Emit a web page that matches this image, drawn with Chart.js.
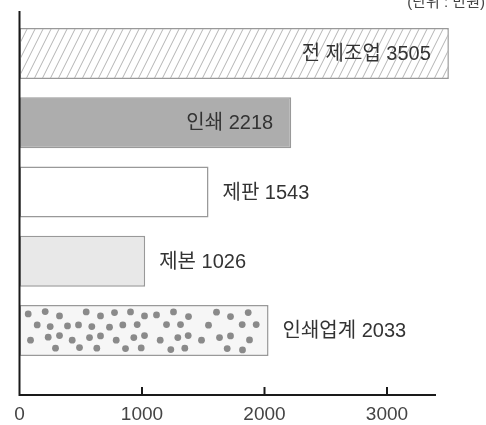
<!DOCTYPE html>
<html>
<head>
<meta charset="utf-8">
<script src="https://cdn.jsdelivr.net/npm/chart.js@4.4.1/dist/chart.umd.min.js"></script>
<style>
  html, body { margin: 0; padding: 0; background: #fff; }
  #wrap { width: 486px; height: 425px; position: relative; }
</style>
</head>
<body>
<div id="wrap"><canvas id="chart"></canvas></div>
<script>
const categories = ['전 제조업', '인쇄', '제판', '제본', '인쇄업계'];
const wages = [3505, 2218, 1543, 1026, 2033];
const tickValues = [0, 1000, 2000, 3000];
const axisEnd = 3400;
const unitLabel = '(단위 : 만원)';

const FONT = '"Liberation Sans", "Noto Sans CJK KR", sans-serif';
Chart.defaults.font.family = FONT;

// dot positions for the speckled bar, relative to the bar's top-left corner
const DOTS = [
  [8.7,9],[25.7,6.7],[40,11],[66.7,7],[81,11],[95,7.7],[111,7],[125,11],[137,10],[154,7],[169,11.7],[197,7.3],[211,11.7],[228.7,7.7],
  [17.7,20],[30.7,21.7],[48,21],[59,20],[72.3,21.7],[90,22.3],[103.3,20],[117.7,19.7],[147,19.7],[161,19.7],[189,20.3],[222.7,19.7],[236.7,19.7],
  [11,35.3],[28.7,32.3],[40,30.7],[52.7,35.3],[70,32.7],[81,31],[96.7,35.3],[114.3,32.7],[125,30.7],[140.7,35.3],[158.3,32.7],[168.7,30.7],[182,35.3],[200,32.7],[211,31],[230,35],
  [36,43.3],[60,42.7],[77.3,43.3],[106,43.7],[121.7,43],[151.3,44.7],[165.3,43.3],[207.7,43.7],[223,45]
];

const decorPlugin = {
  id: 'decor',
  afterDatasetsDraw(chart) {
    const ctx = chart.ctx;
    const bars = chart.getDatasetMeta(0).data;

    // hatched bar
    let b = bars[0].getProps(['x', 'y', 'base', 'height'], true);
    let top = b.y - b.height / 2, bottom = b.y + b.height / 2;
    ctx.save();
    ctx.beginPath();
    ctx.rect(b.base + 1, top + 1, b.x - b.base - 2, b.height - 2);
    ctx.clip();
    ctx.strokeStyle = '#b4b4b4';
    ctx.lineWidth = 1;
    const lean = b.height * 0.5;
    for (let x = b.base - lean; x < b.x + 10; x += 8) {
      ctx.beginPath();
      ctx.moveTo(x, bottom);
      ctx.lineTo(x + lean, top);
      ctx.stroke();
    }
    ctx.restore();

    // dotted bar
    b = bars[4].getProps(['x', 'y', 'base', 'height'], true);
    top = b.y - b.height / 2;
    ctx.save();
    ctx.beginPath();
    ctx.rect(b.base + 1, top + 1, b.x - b.base - 2, b.height - 2);
    ctx.clip();
    ctx.fillStyle = '#8a8a8a';
    DOTS.forEach(([dx, dy]) => {
      ctx.beginPath();
      ctx.arc(b.base + dx, top + dy, 3.4, 0, Math.PI * 2);
      ctx.fill();
    });
    ctx.restore();

    // value labels
    ctx.save();
    ctx.font = '20px ' + FONT;
    ctx.fillStyle = '#333';
    ctx.textBaseline = 'middle';
    bars.forEach((bar, i) => {
      const p = bar.getProps(['x', 'y'], true);
      const text = categories[i] + ' ' + wages[i];
      if (wages[i] >= 2200) {
        ctx.textAlign = 'right';
        ctx.fillText(text, p.x - 18, p.y + 1);
      } else {
        ctx.textAlign = 'left';
        ctx.fillText(text, p.x + 14, p.y + 1);
      }
    });
    ctx.restore();

    // axes
    const xs = chart.scales.x;
    const x0 = xs.getPixelForValue(0);
    const axisY = chart.chartArea.bottom + 30;
    ctx.save();
    ctx.strokeStyle = '#1a1a1a';
    ctx.lineWidth = 2;
    ctx.beginPath();
    ctx.moveTo(x0, 11);
    ctx.lineTo(x0, axisY);
    ctx.lineTo(xs.getPixelForValue(axisEnd), axisY);
    ctx.stroke();
    tickValues.slice(1).forEach(v => {
      const px = xs.getPixelForValue(v);
      ctx.beginPath();
      ctx.moveTo(px, axisY);
      ctx.lineTo(px, axisY - 8);
      ctx.stroke();
    });
    ctx.restore();

    // unit note
    ctx.save();
    ctx.font = '15px ' + FONT;
    ctx.fillStyle = '#444';
    ctx.textAlign = 'right';
    ctx.textBaseline = 'alphabetic';
    ctx.fillText(unitLabel, 485, 7);
    ctx.restore();
  }
};

new Chart(document.getElementById('chart'), {
  type: 'bar',
  data: {
    labels: categories,
    datasets: [{
      data: wages,
      backgroundColor: ['#ffffff', '#adadad', '#ffffff', '#e8e8e8', '#f6f6f6'],
      borderColor: '#999999',
      borderWidth: 1.5,
      borderSkipped: false,
      categoryPercentage: 1,
      barPercentage: 0.737
    }]
  },
  options: {
    indexAxis: 'y',
    responsive: true,
    maintainAspectRatio: false,
    animation: false,
    layout: { padding: { left: 19.5, right: 25.5, top: 19, bottom: 0 } },
    plugins: { legend: { display: false }, tooltip: { enabled: false } },
    scales: {
      x: {
        min: 0,
        max: 3600,
        afterBuildTicks: scale => { scale.ticks = tickValues.map(v => ({ value: v })); },
        afterFit: scale => {
          scale.height = 60;
          scale.paddingLeft = 0;
          scale.paddingRight = 0;
        },
        grid: { display: false, drawTicks: false },
        border: { display: false },
        ticks: {
          padding: 40,
          color: '#444',
          font: { size: 19, lineHeight: 1 },
          maxRotation: 0,
          callback: v => String(v)
        }
      },
      y: { display: false }
    }
  },
  plugins: [decorPlugin]
});
</script>
</body>
</html>
